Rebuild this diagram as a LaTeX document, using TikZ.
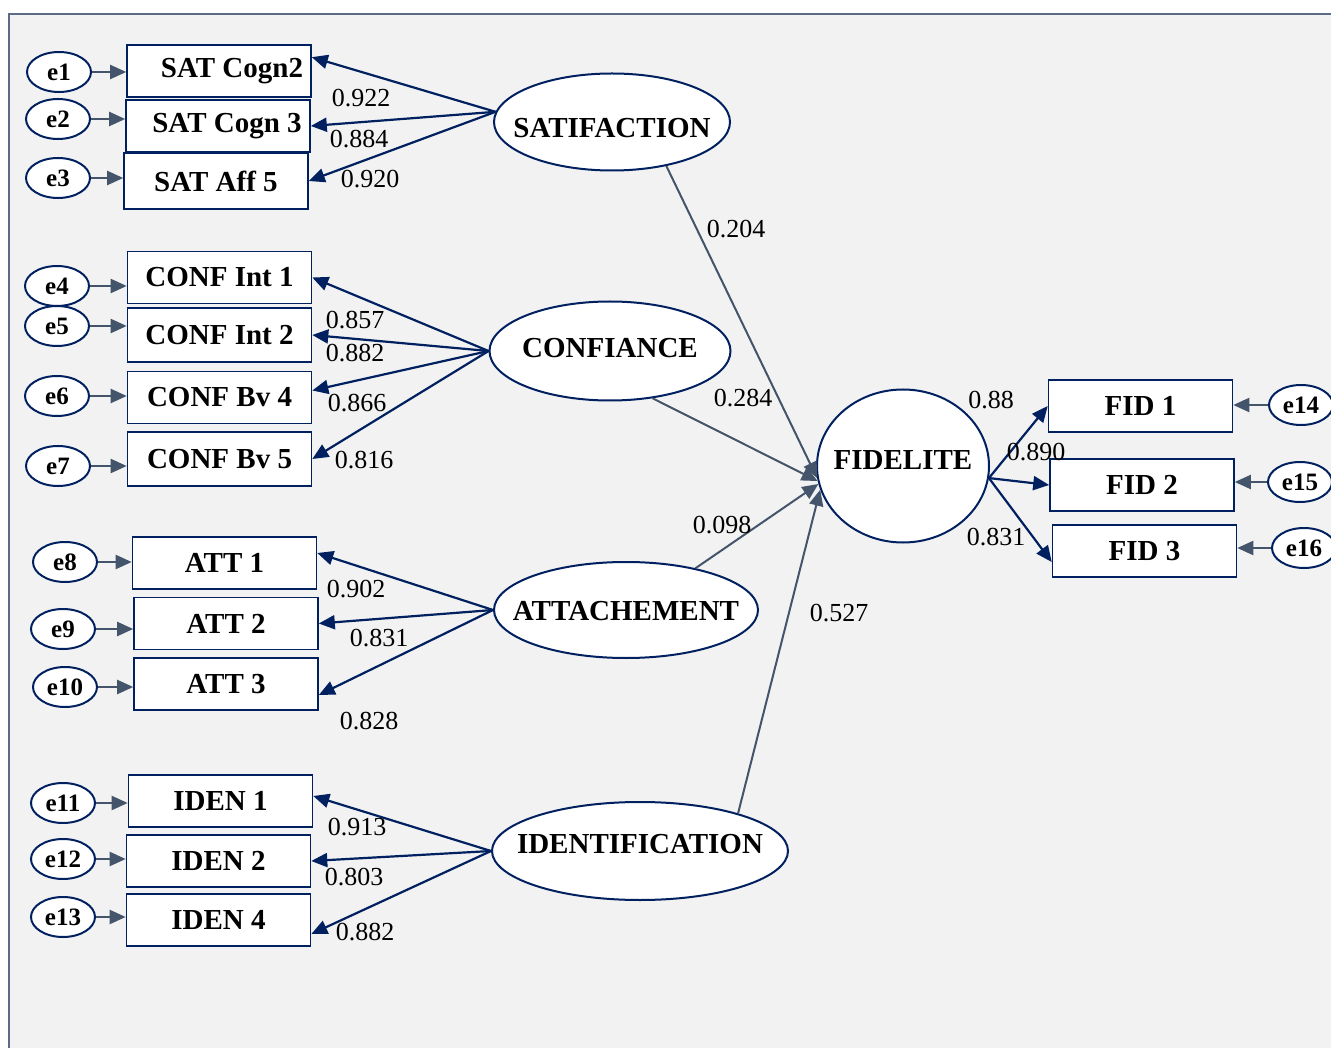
\documentclass[tikz,border=0pt]{standalone}
\usepackage{fontspec}
\setmainfont{Liberation Serif}
\usetikzlibrary{arrows.meta,positioning,shapes.geometric}
\definecolor{semnavy}{HTML}{002060}
\definecolor{semslate}{HTML}{44546A}
\definecolor{sempanel}{HTML}{F2F2F2}
\definecolor{semframe}{HTML}{5B6A85}
\newcommand{\lvname}[2]{\makebox[0pt]{\raisebox{#1}[0pt][0pt]{#2}}}

\begin{document}
\begin{tikzpicture}[
    x=1pt, y=-1pt,
    every node/.style={font=\fontsize{26}{30}\selectfont},
    item/.style={draw=semnavy, line width=1.6pt, fill=white, minimum width=184pt, minimum height=52pt, inner sep=0pt, font=\fontsize{29}{34}\selectfont\bfseries},
    latent/.style={ellipse, draw=semnavy, line width=2pt, fill=white, inner sep=0pt, font=\fontsize{29}{34}\selectfont\bfseries},
    err/.style={ellipse, draw=semnavy, line width=2pt, fill=white, minimum width=64pt, minimum height=40pt, inner sep=0pt, font=\fontsize{25}{30}\selectfont\bfseries},
    load/.style={-{Triangle[length=16pt, width=14pt]}, line width=2.2pt, semnavy},
    effect/.style={-{Triangle[length=16pt, width=14pt]}, line width=2pt, semslate},
    errflow/.style={-{Triangle[length=16pt, width=14pt]}, line width=2.2pt, semslate}
]
\fill[white] (0,0) rectangle (1331,1048);
\useasboundingbox (0,0) rectangle (1331,1048);
\fill[sempanel] (9,14) rectangle (1331,1048);
\draw[semframe, line width=2.4pt] (9,1048) -- (9,14) -- (1331,14);

% indicators
\node[item] (sc2) at (219,71) {\hspace{26pt}SAT Cogn2};
\node[item] (sc3) at (218,126) {\hspace{18pt}SAT Cogn 3};
\node[item, minimum height=56pt] (saf5) at (216,181) {SAT Aff 5};
\node[item] (ci1) at (219.5,277.5) {CONF Int 1};
\node[item, minimum height=54pt] (ci2) at (219.5,335) {CONF Int 2};
\node[item] (cb4) at (219.5,397.5) {CONF Bv 4};
\node[item, minimum height=54pt] (cb5) at (219.5,459) {CONF Bv 5};
\node[item] (att1) at (224.5,563) {ATT 1};
\node[item] (att2) at (226,623.5) {ATT 2};
\node[item] (att3) at (226,684) {ATT 3};
\node[item] (id1) at (220.5,801) {IDEN 1};
\node[item] (id2) at (218.5,861) {IDEN 2};
\node[item] (id4) at (218.5,920) {IDEN 4};
\node[item] (fid1) at (1140.5,406) {FID 1};
\node[item] (fid2) at (1142,485) {FID 2};
\node[item] (fid3) at (1144.5,551) {FID 3};

% latent variables
\node[latent, minimum width=236pt, minimum height=97pt] (sat) at (612,122) {\lvname{-16pt}{SATIFACTION}};
\node[latent, minimum width=241pt, minimum height=99pt] (conf) at (610,351) {\lvname{-7pt}{CONFIANCE}};
\node[latent, minimum width=264pt, minimum height=96pt] (att) at (626,610) {\lvname{-10pt}{ATTACHEMENT}};
\node[latent, minimum width=296pt, minimum height=98pt] (iden) at (640,851) {\lvname{-2pt}{IDENTIFICATION}};
\node[latent, minimum width=172pt, minimum height=153pt] (fid) at (903,466) {\lvname{-4pt}{FIDELITE}};

% errors
\node[err] (e1) at (59,72) {e1};
\node[err] (e2) at (58,119) {e2};
\node[err] (e3) at (58,178) {e3};
\node[err] (e4) at (57,286) {e4};
\node[err] (e5) at (57,326) {e5};
\node[err] (e6) at (57,396) {e6};
\node[err] (e7) at (58,466) {e7};
\node[err] (e8) at (65,562) {e8};
\node[err] (e9) at (63,629) {e9};
\node[err] (e10) at (65,687) {e10};
\node[err] (e11) at (63,803) {e11};
\node[err] (e12) at (63,859) {e12};
\node[err] (e13) at (63,917) {e13};
\node[err] (e14) at (1301,405) {e14};
\node[err] (e15) at (1300,482) {e15};
\node[err] (e16) at (1304,548) {e16};

\draw[errflow] (e1) -- (e1 -| sc2.west);
\draw[errflow] (e2) -- (e2 -| sc3.west);
\draw[errflow] (e3) -- (e3 -| saf5.west);
\draw[errflow] (e4) -- (e4 -| ci1.west);
\draw[errflow] (e5) -- (e5 -| ci2.west);
\draw[errflow] (e6) -- (e6 -| cb4.west);
\draw[errflow] (e7) -- (e7 -| cb5.west);
\draw[errflow] (e8) -- (e8 -| att1.west);
\draw[errflow] (e9) -- (e9 -| att2.west);
\draw[errflow] (e10) -- (e10 -| att3.west);
\draw[errflow] (e11) -- (e11 -| id1.west);
\draw[errflow] (e12) -- (e12 -| id2.west);
\draw[errflow] (e13) -- (e13 -| id4.west);
\draw[errflow] (e14) -- (e14 -| fid1.east);
\draw[errflow] (e15) -- (e15 -| fid2.east);
\draw[errflow] (e16) -- (e16 -| fid3.east);

% loadings
\draw[load] (sat.175) -- ([yshift=-13pt]sc2.north east);
\draw[load] (sat.175) -- (sc3.east);
\draw[load] (sat.175) -- (saf5.east);
\draw[load] (conf.west) -- (ci1.east);
\draw[load] (conf.west) -- (ci2.east);
\draw[load] (conf.west) -- ([yshift=7pt]cb4.east);
\draw[load] (conf.west) -- (cb5.east);
\draw[load] (att.west) -- ([yshift=10pt]att1.east);
\draw[load] (att.west) -- (att2.east);
\draw[load] (att.west) -- ([yshift=-11pt]att3.east);
\draw[load] (iden.west) -- ([yshift=5pt]id1.east);
\draw[load] (iden.west) -- (id2.east);
\draw[load] (iden.west) -- ([yshift=-14pt]id4.east);
\draw[load] (fid.-8) -- (fid1.west);
\draw[load] (fid.-8) -- (fid2.west);
\draw[load] (fid.-8) -- ([yshift=-11pt]fid3.west);

% structural paths
\draw[effect] (sat.-39) -- (fid.188);
\draw[effect] (conf.-48) -- (fid.190);
\draw[effect] (att.31) -- (fid.192);
\draw[effect] (iden.21) -- (fid.196);

% coefficients
\node (lsc2) at (361,98) {0.922};
\node (lsc3) at (359,139) {0.884};
\node (lsaf5) at (370,179) {0.920};
\node (lci1) at (355,320) {0.857};
\node (lci2) at (355,353) {0.882};
\node (lcb4) at (357,403) {0.866};
\node (lcb5) at (364,460) {0.816};
\node (latt1) at (356,589) {0.902};
\node (latt2) at (379,638) {0.831};
\node (latt3) at (369,721) {0.828};
\node (lid1) at (357,827) {0.913};
\node (lid2) at (354,877) {0.803};
\node (lid4) at (365,932) {0.882};
\node (lsat) at (736,229) {0.204};
\node (lconf) at (743,398) {0.284};
\node (latt) at (722,525) {0.098};
\node (liden) at (839,613) {0.527};
\node (lfid1) at (991,400) {0.88};
\node (lfid2) at (1036,452) {0.890};
\node (lfid3) at (996,537) {0.831};
\end{tikzpicture}
\end{document}
